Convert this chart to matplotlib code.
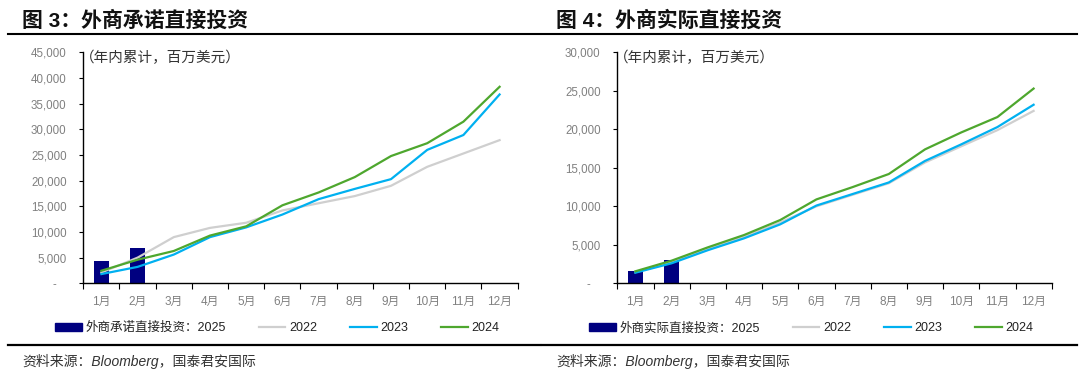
import matplotlib
matplotlib.use('Agg')
import matplotlib.pyplot as plt
from matplotlib.lines import Line2D
from matplotlib.patches import Patch
from matplotlib.ticker import FuncFormatter
import numpy as np

plt.rcParams['font.family'] = ['Liberation Sans', 'Noto Sans CJK SC', 'DejaVu Sans']

# ---------------- data ----------------
months = ['1月', '2月', '3月', '4月', '5月', '6月', '7月', '8月', '9月', '10月', '11月', '12月']

# 图3 外商承诺直接投资 (年内累计, 百万美元)
commit_2025 = [4350, 6900]
commit_2022 = [2100, 5000, 9000, 10800, 11800, 14200, 15600, 17000, 19000, 22700, 25300, 27900]
commit_2023 = [1800, 3200, 5600, 9000, 10900, 13400, 16400, 18400, 20300, 26000, 28900, 36800]
commit_2024 = [2450, 4600, 6300, 9300, 11100, 15200, 17700, 20700, 24800, 27300, 31500, 38300]

# 图4 外商实际直接投资 (年内累计, 百万美元)
actual_2025 = [1600, 3000]
actual_2022 = [1450, 2750, 4450, 6050, 7900, 10000, 11500, 13000, 15700, 17800, 19900, 22400]
actual_2023 = [1380, 2600, 4300, 5840, 7660, 10100, 11600, 13100, 15900, 18050, 20300, 23200]
actual_2024 = [1560, 2940, 4670, 6270, 8220, 10900, 12500, 14200, 17400, 19600, 21600, 25300]

titles = ['图 3：外商承诺直接投资', '图 4：外商实际直接投资']
bar_labels = ['外商承诺直接投资：2025', '外商实际直接投资：2025']
series_labels = ['2022', '2023', '2024']
unit_note = '（年内累计，百万美元）'
source_note = '资料来源：Bloomberg，国泰君安国际'
y_max = [45000, 30000]

# ---------------- style ----------------
C_BAR = '#000080'
C_22 = '#cfcfcf'
C_23 = '#00b0f0'
C_24 = '#4ea72e'
C_TICK = '#808080'

W, H = 1080, 374
fig = plt.figure(figsize=(W / 100, H / 100), dpi=100)


def fx(px):
    return px / W


def fy(py):
    return 1 - py / H


def yfmt(v, pos):
    if v == 0:
        return '-   '
    return f'{int(v):,}'


def panel(x0, title, bar_label, ymax, bars, s22, s23, s24):
    ax = fig.add_axes([fx(83.3 + x0), fy(283.3), fx(434.4), (283.3 - 52.4) / H])
    x = np.arange(len(months))
    ax.bar(x[:len(bars)], bars, width=0.42, color=C_BAR, zorder=2)
    l22, = ax.plot(x, s22, color=C_22, lw=1.6, zorder=3)
    l23, = ax.plot(x, s23, color=C_23, lw=1.6, zorder=4)
    l24, = ax.plot(x, s24, color=C_24, lw=1.6, zorder=5)
    ax.set_xlim(-0.5, 11.5)
    ax.set_ylim(0, ymax)

    for s in ['top', 'right']:
        ax.spines[s].set_visible(False)
    for s in ['left', 'bottom']:
        ax.spines[s].set_color('black')
        ax.spines[s].set_linewidth(1.0)

    ax.set_yticks(np.arange(0, ymax + 1, 5000))
    ax.yaxis.set_major_formatter(FuncFormatter(yfmt))
    ax.tick_params(axis='y', length=3, width=0.8, pad=9, labelsize=8.3,
                   labelcolor=C_TICK, direction='out')

    ax.set_xticks(np.arange(-0.5, 12, 1))
    ax.set_xticklabels([])
    ax.set_xticks(x, minor=True)
    ax.set_xticklabels(months, minor=True)
    ax.tick_params(axis='x', which='major', length=4, width=0.8, direction='out')
    ax.tick_params(axis='x', which='minor', length=0, pad=9, labelsize=8.5,
                   labelcolor=C_TICK)

    # title + rules
    x_end = 540 if x0 == 0 else 1077
    fig.text(fx(22 + x0), fy(20.7), title, fontsize=15, fontweight='bold',
             va='center', ha='left', color='#111111')
    fig.add_artist(Line2D([fx(8 + x0), fx(x_end)], [fy(34.3), fy(34.3)],
                          color='black', lw=1.5, transform=fig.transFigure))
    fig.add_artist(Line2D([fx(8 + x0), fx(x_end)], [fy(345), fy(345)],
                          color='black', lw=1.6, transform=fig.transFigure))

    fig.text(fx(80 + x0), fy(58), unit_note, fontsize=10.5, va='center',
             ha='left', color='#333333')
    fig.text(fx(22 + x0), fy(361), source_note, fontsize=10, style='italic',
             va='center', ha='left', color='#333333')

    handles = [Patch(color=C_BAR), l22, l23, l24]
    labels = [bar_label] + series_labels
    fig.legend(handles, labels, loc='center left',
               bbox_to_anchor=(fx(55 + x0), fy(328.3)),
               bbox_transform=fig.transFigure, ncol=4, frameon=False,
               fontsize=9, handlelength=2.15, handletextpad=0.3,
               columnspacing=2.6, borderpad=0, borderaxespad=0,
               labelcolor='#222222')
    return ax


panel(0, titles[0], bar_labels[0], y_max[0], commit_2025, commit_2022, commit_2023, commit_2024)
panel(534, titles[1], bar_labels[1], y_max[1], actual_2025, actual_2022, actual_2023, actual_2024)

fig.savefig('out.png', dpi=100)
